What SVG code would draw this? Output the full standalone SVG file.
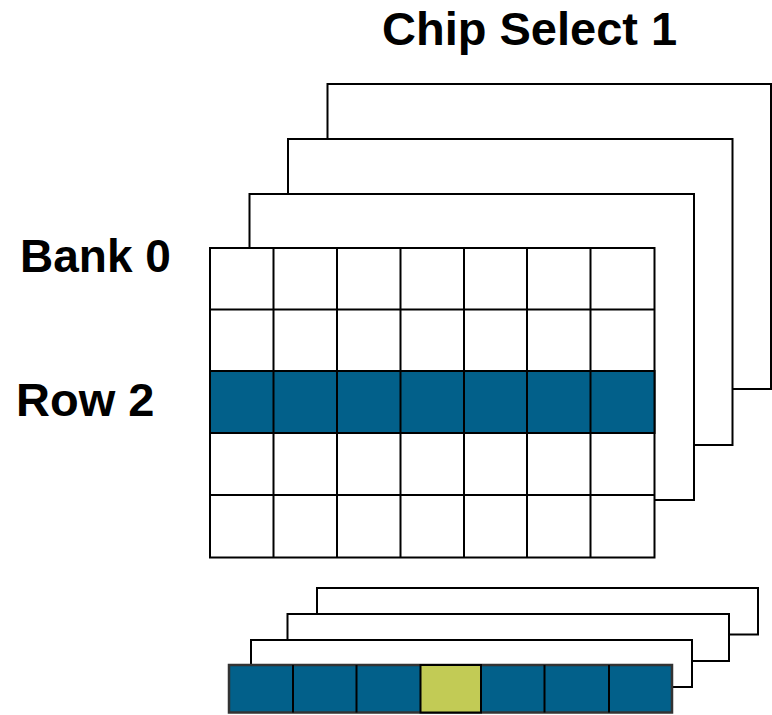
<svg xmlns="http://www.w3.org/2000/svg" width="772" height="715" viewBox="0 0 772 715">
<style>
.frame{fill:#fff;stroke:#000;stroke-width:2}
.cell{fill:#fff;stroke:#000;stroke-width:2}
.sel{fill:#02608A;stroke:#000;stroke-width:2}
.hit{fill:#C2CB55;stroke:#000;stroke-width:2}
.lbl{font-family:"Liberation Sans",Arial,sans-serif;font-weight:bold;font-size:47px;fill:#000}
</style>
<rect width="772" height="715" fill="#fff"/>
<g id="label-chip-select"><text class="lbl" x="382" y="45">Chip Select 1</text></g>
<g id="label-bank"><text class="lbl" x="20" y="272" style="font-size:46px">Bank 0</text></g>
<g id="label-row"><text class="lbl" x="16" y="416">Row 2</text></g>
<g id="bank-frames">
<rect class="frame" x="327.5" y="84" width="443.5" height="305"/>
<rect class="frame" x="288" y="139" width="444.5" height="306"/>
<rect class="frame" x="249.5" y="194" width="444.5" height="306"/>
</g>
<g id="bank0-grid">
<rect class="cell" x="210" y="248" width="444.5" height="309.5"/>
<rect class="sel" x="210" y="371" width="444.5" height="62"/>
<g stroke="#000" stroke-width="2" fill="none">
<path d="M210 309.5H654.5M210 371H654.5M210 433H654.5M210 495H654.5"/>
<path d="M273.5 248V557.5M337 248V557.5M400.5 248V557.5M464 248V557.5M527 248V557.5M590.5 248V557.5"/>
</g>
</g>
<g id="buffer-frames">
<rect class="frame" x="317" y="588" width="441" height="46.5"/>
<rect class="frame" x="287.5" y="614" width="441.5" height="47"/>
<rect class="frame" x="251" y="640" width="441" height="47"/>
</g>
<g id="row-buffer">
<rect x="229" y="665" width="443" height="47.5" fill="#02608A" stroke="#333" stroke-width="2.5"/>
<rect class="hit" x="420.5" y="665" width="60.5" height="47.5"/>
<path d="M293 665V712.5M356.5 665V712.5M544.5 665V712.5M609 665V712.5" stroke="#000" stroke-width="2"/>
</g>
</svg>
